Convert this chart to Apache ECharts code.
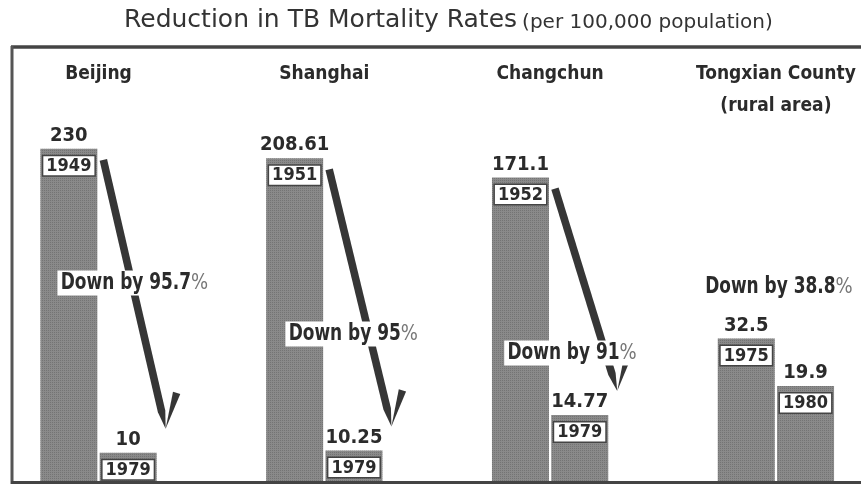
<!DOCTYPE html>
<html><head><meta charset="utf-8">
<script src="https://cdn.jsdelivr.net/npm/echarts@6/dist/echarts.min.js"></script>
<style>html,body{margin:0;padding:0;background:#fff}#c{width:861px;height:484px}</style>
</head><body><div id="c"></div>
<script>
// ---- data ----
const groups = ['Beijing', 'Shanghai', 'Changchun', 'Tongxian County\n(rural area)'];
const earlyYears = ['1949', '1951', '1952', '1975'];
const earlyValues = [230, 208.61, 171.1, 32.5];
const lateYears = ['1979', '1979', '1979', '1980'];
const lateValues = [10, 10.25, 14.77, 19.9];
const declines = ['95.7', '95', '91', '38.8'];

// ---- styling / layout ----
const COND = '"DejaVu Sans Condensed", sans-serif';
const INK = '#2b2b2b';
const BAR = '#8a8a8a';
// annotation placement: [dx from pair centre, y]
const annotPlace = [[36, 283], [29, 334], [22, 353], [3, 287]];

const chart = echarts.init(document.getElementById('c'), null, {renderer: 'canvas'});

function barLabel(years) {
  return {
    show: true, position: 'top', distance: -25,
    formatter: p => '{v|' + p.value + '}\n{y|' + years[p.dataIndex] + '}',
    rich: {
      v: {fontFamily: COND, fontWeight: 'bold', fontSize: 20, color: INK, lineHeight: 44},
      y: {fontFamily: COND, fontWeight: 'bold', fontSize: 18, color: INK, backgroundColor: '#fff',
          borderColor: '#444', borderWidth: 1.5, padding: [1, 3, 0, 3], lineHeight: 16}
    }
  };
}
const decal = {symbol: 'rect', symbolSize: 1, dashArrayX: [1, 1], dashArrayY: [1, 1],
               color: 'rgba(50,50,50,0.25)'};

chart.setOption({
  animation: false,
  title: {
    left: 119, top: 3,
    text: '{a|Reduction in TB Mortality Rates} {b|(per 100,000 population)}',
    textStyle: {
      rich: {
        a: {fontFamily: '"DejaVu Sans", sans-serif', fontWeight: 'normal', fontSize: 25, color: '#333', verticalAlign: 'bottom'},
        b: {fontFamily: '"DejaVu Sans", sans-serif', fontWeight: 'normal', fontSize: 20, color: '#333', verticalAlign: 'bottom'}
      }
    }
  },
  grid: {left: -14.4, width: 903.2, top: 60, bottom: 2, containLabel: false, outerBoundsMode: 'none'},
  xAxis: {
    type: 'category', data: groups, position: 'top',
    axisLine: {show: false}, axisTick: {show: false}, splitLine: {show: false},
    axisLabel: {fontFamily: COND, fontWeight: 'bold', fontSize: 19, color: INK,
      verticalAlign: 'top', margin: 2, lineHeight: 32, interval: 0}
  },
  yAxis: {type: 'log', min: 7.4, max: 575, show: false},
  series: [
    {type: 'bar', name: 'early', data: earlyValues, barWidth: 57, barGap: '4%', clip: true,
     itemStyle: {color: BAR, decal: decal}, label: barLabel(earlyYears)},
    {type: 'bar', name: 'late', data: lateValues, barWidth: 57, barGap: '4%', clip: true,
     itemStyle: {color: BAR, decal: decal}, label: barLabel(lateYears)}
  ]
});

// ---- annotations (arrows + "Down by" boxes) computed from the bar layout ----
function layoutOf(si, i) {
  const l = chart.getModel().getSeriesByIndex(si).getData().getItemLayout(i);
  return {left: l.x, right: l.x + l.width, top: Math.min(l.y, l.y + l.height)};
}
function poly(points, z) {
  return {type: 'polygon', z: z, shape: {points: points}, style: {fill: '#363636'}};
}
const g = [];
// frame
g.push({type: 'line', z: 5, shape: {x1: 11, y1: 47, x2: 861, y2: 47}, style: {stroke: '#444', lineWidth: 3.5}});
g.push({type: 'line', z: 5, shape: {x1: 12, y1: 46, x2: 12, y2: 484}, style: {stroke: '#555', lineWidth: 3}});
g.push({type: 'line', z: 5, shape: {x1: 11, y1: 482.5, x2: 861, y2: 482.5}, style: {stroke: '#444', lineWidth: 3}});

for (let i = 0; i < groups.length; i++) {
  const a = layoutOf(0, i), b = layoutOf(1, i);
  if (i < 3) {
    const sx = a.right + 6, sy = a.top + 11;
    const tx = b.right + 9, ty = b.top - 24;
    const dx = tx - sx, dy = ty - sy, len = Math.hypot(dx, dy);
    const ux = dx / len, uy = dy / len, px = -uy, py = ux, w = 3.8;
    const nx = tx - ux * 18, ny = ty - uy * 18;
    g.push(poly([[sx + px * w, sy + py * w], [sx - px * w, sy - py * w], [nx - px * w, ny - py * w],
                 [tx, ty], [nx + px * w, ny + py * w]], 10));
    const bx = tx + 11, by = ty - 36;
    const bdx = tx - bx, bdy = ty - by, bl = Math.hypot(bdx, bdy);
    const bpx = -bdy / bl * 3.8, bpy = bdx / bl * 3.8;
    g.push(poly([[bx + bpx, by + bpy], [bx - bpx, by - bpy], [tx, ty]], 10));
  }
  const cx = (a.left + b.right) / 2;
  g.push({
    type: 'text', z: 20,
    x: cx + annotPlace[i][0], y: annotPlace[i][1], scaleX: 0.82,
    style: {
      x: 0, y: 0, align: 'center', verticalAlign: 'middle',
      text: '{t|Down by ' + declines[i] + '}{p|%}',
      backgroundColor: '#fff', padding: [1, 4, 1, 4],
      rich: {
        t: {fontFamily: COND, fontWeight: 'bold', fontSize: 23, fill: INK},
        p: {fontFamily: '"DejaVu Sans", sans-serif', fontSize: 22, fill: '#777'}
      }
    }
  });
}
chart.setOption({graphic: {elements: g}});
</script>
</body></html>
